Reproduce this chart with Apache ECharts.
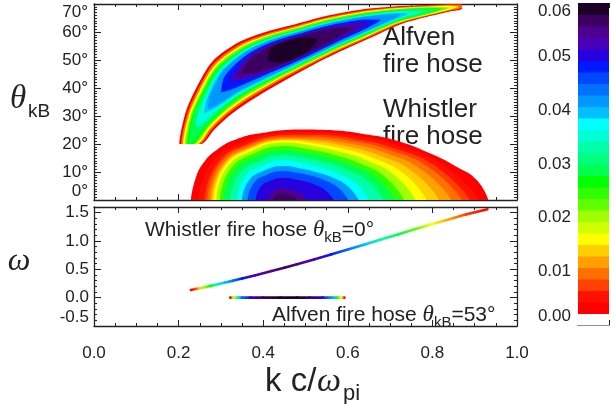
<!DOCTYPE html>
<html><head><meta charset="utf-8">
<script src="https://cdn.jsdelivr.net/npm/echarts@6/dist/echarts.min.js"></script>
<style>html,body{margin:0;padding:0;background:#fff}#c{width:611px;height:404px}</style>
</head><body><div id="c"></div>
<script>
// ---------------- data ----------------
const kTicks = [0.0, 0.2, 0.4, 0.6, 0.8, 1.0];
const thetaTicks = [0, 10, 20, 30, 40, 50, 60, 70];
const omegaTicks = [-0.5, 0.0, 0.5, 1.0, 1.5];
const omegaMax = 1.6;
const gammaTicks = [0.00, 0.01, 0.02, 0.03, 0.04, 0.05, 0.06];

// colour table of the colour bar, lowest band first (0 .. 0.06 in 28 bands)
const bandColors = ['#ffffff','#ff0000','#ff1000','#ff4000','#ff7000','#ffa000','#ffd000','#ffff00',
  '#d0ff00','#a0ff00','#60ff00','#30ff00','#00ff00','#00ff50','#00ff80','#00ffa8','#00ffd8','#00ffff',
  '#00c0ff','#0098ff','#0070ff','#0048ff','#0018ff','#2800e0','#4800b8','#500090','#3c0060','#1c0028'];

// ---- Whistler fire hose: contour levels of gamma and contours [k c/wpi, theta_kB] ----
const whistlerLevels = [0.0021429,0.0042857,0.0064286,0.0085714,0.0107143,0.0128571,0.015,0.0192857,0.0235714,
  0.0278571,0.0321429,0.0364286,0.0407143,0.045,0.0492857,0.0535714,0.0557143];
const whistlerB1 = [[.229,0],[.239,7.1],[.258,13.1],[.29,17.9],[.337,21.7],[.40,24.0],[.479,25.2],[.558,25.0],[.637,23.6],[.716,21.2],[.794,16.7],[.857,11.9],[.905,7.1],[.932,0]];
const whistlerB2 = [[.2465,0],[.2828,14.14],[.3632,21.37],[.4449,23.97],[.5373,24.17],[.6243,22.75],[.7201,19.41],[.8277,12.30],[.9102,0]];
const whistlerB3 = [[.2616,0],[.2927,13.28],[.3669,20.40],[.4449,23.23],[.5339,23.30],[.6170,21.83],[.7084,18.58],[.8105,11.74],[.8883,0]];
const whistlerB4 = [[.2681,0],[.2975,12.86],[.3692,19.80],[.4449,22.61],[.5310,22.55],[.6109,21.05],[.6983,17.87],[.7953,11.26],[.8688,0]];
const whistlerB5 = [[.2746,0],[.3025,12.42],[.3715,19.21],[.4449,21.99],[.5279,21.72],[.6038,20.15],[.6860,17.00],[.7765,10.65],[.8444,0]];
const whistlerB6 = [[.2789,0],[.3056,12.15],[.3729,18.83],[.4449,21.62],[.5250,20.97],[.5963,19.20],[.6722,16.03],[.7549,9.96],[.8152,0]];
const whistlerB7 = [[.2832,0],[.3087,11.88],[.3744,18.45],[.4449,21.25],[.5221,20.22],[.5889,18.26],[.6587,15.08],[.7333,9.26],[.7859,0]];
const whistlerB9 = [[.2897,0],[.3139,11.42],[.3769,17.78],[.4449,20.51],[.5184,19.24],[.5807,17.22],[.6449,14.11],[.7125,8.60],[.7591,0]];
const whistlerB11 = [[.2983,0],[.3216,10.76],[.3809,16.75],[.4449,19.27],[.5135,17.96],[.5710,15.99],[.6294,13.01],[.6909,7.90],[.7323,0]];
const whistlerB13 = [[.3069,0],[.3295,10.07],[.3855,15.54],[.4449,17.79],[.5083,16.58],[.5613,14.76],[.6154,12.02],[.6721,7.30],[.7104,0]];
const whistlerB15 = [[.3220,0],[.3416,9.01],[.3915,13.97],[.4449,16.06],[.5020,14.95],[.5497,13.29],[.5984,10.83],[.6493,6.57],[.6836,0]];
const whistlerB17 = [[.3393,0],[.3549,7.85],[.3978,12.33],[.4449,14.33],[.4953,13.20],[.5367,11.64],[.5784,9.41],[.6213,5.67],[.6495,0]];
const whistlerB19 = [[.3500,0],[.3658,6.90],[.4044,10.60],[.4449,12.11],[.4880,11.27],[.5240,10.03],[.5608,8.18],[.5993,4.96],[.6252,0]];
const whistlerB21 = [[.3630,0],[.3769,5.93],[.4100,9.12],[.4449,10.38],[.4819,9.69],[.5130,8.63],[.5448,7.04],[.5781,4.28],[.6008,0]];
const whistlerB23 = [[.3824,0],[.3930,4.53],[.4183,6.95],[.4449,7.91],[.4733,7.44],[.4975,6.67],[.5224,5.46],[.5485,3.33],[.5667,0]];
const whistlerB25 = [[.4126,0],[.4177,2.37],[.4309,3.65],[.4449,4.20],[.4595,3.83],[.4716,3.38],[.4834,2.71],[.4953,1.62],[.5034,0]];
const whistlerB26 = [[.4233,0],[.4276,1.51],[.4363,2.24],[.4449,2.47],[.4535,2.25],[.4606,1.99],[.4673,1.58],[.4745,0.95],[.4790,0]];

// ---- Alfven fire hose: contour levels of gamma and contours ----
const alfvenLevels = [0.0021429,0.0085714,0.015,0.0214286,0.0257143,0.0278571,0.0342857,0.0385714,0.0407143,
  0.0471429,0.0514286,0.0535714,0.0557143,0.0578571];
const alfvenB1 = [[.2017,20],[.2158,30.9],[.2411,39.8],[.2799,49.5],[.3411,56.25],[.4019,59.86],[.4735,62.68],[.5437,65.54],[.6265,67.86],[.7080,69.07],[.7872,69.64],[.8392,70],[.87,70],
  [.87,68.21],[.8416,67.36],[.7943,65.71],[.7234,62.71],[.6525,57.86],[.5816,53.0],[.5177,48.21],[.4634,43.75],[.4113,39.29],[.3617,34.64],[.3191,30.0],[.2837,25.0],[.2546,20]];
const alfvenB4 = [[.2061,20],[.2201,30.52],[.2453,39.3],[.2836,48.83],[.3440,55.55],[.4049,59.24],[.4752,62.14],[.5453,65.04],[.6277,67.40],[.7089,68.73],[.7877,69.37],[.8395,69.70],[.87,69.62],
  [.87,68.59],[.8413,67.65],[.7938,65.99],[.7226,63.06],[.6513,58.31],[.5800,53.5],[.5161,48.76],[.4603,44.37],[.4085,39.98],[.3580,35.32],[.3150,30.52],[.2794,25.37],[.2502,20]];
const alfvenB7 = [[.2102,20],[.2237,30.21],[.2487,38.87],[.2867,48.27],[.3463,55.0],[.4068,58.74],[.4765,61.70],[.5465,64.62],[.6286,67.03],[.7096,68.44],[.7882,69.14],[.8398,69.40],[.8627,69.0],
  [.8411,67.95],[.7934,66.22],[.7219,63.35],[.6503,58.69],[.5788,53.91],[.5147,49.2],[.4585,44.87],[.4061,40.54],[.3549,35.88],[.3116,30.95],[.2758,25.69],[.2461,20]];
const alfvenB10 = [[.2154,20],[.2280,29.84],[.2526,38.38],[.2896,47.75],[.3481,54.57],[.4079,58.43],[.4774,61.4],[.5474,64.32],[.6295,66.7],[.7104,68.11],[.7887,68.85],[.8404,68.68],
  [.7929,66.51],[.7211,63.68],[.6495,59.01],[.5779,54.21],[.5138,49.49],[.4573,45.18],[.4044,40.96],[.3521,36.40],[.3077,31.44],[.2715,26.05],[.2409,20]];
const alfvenB12 = [[.2208,20],[.2314,29.54],[.2555,38.01],[.2925,47.21],[.3507,53.94],[.4099,57.89],[.4789,60.91],[.5488,63.87],[.6305,66.32],[.7110,67.86],[.7892,68.53],[.8224,68.31],
  [.7923,66.83],[.7205,63.92],[.6485,59.40],[.5765,54.67],[.5123,49.98],[.4553,45.71],[.4018,41.6],[.3491,36.93],[.3048,31.81],[.2682,26.35],[.2355,20]];
const alfvenB13 = [[.2249,20],[.2333,29.38],[.2570,37.82],[.2939,46.97],[.3517,53.71],[.4109,57.64],[.4795,60.73],[.5493,63.7],[.6309,66.15],[.7113,67.73],[.7894,68.47],[.8132,68.13],
  [.7922,66.89],[.7202,64.06],[.6480,59.56],[.5760,54.84],[.5118,50.17],[.4544,45.97],[.4008,41.83],[.3478,37.18],[.3032,32.0],[.2662,26.52]];
const alfvenB16 = [[.2443,25.96],[.2415,28.66],[.2627,37.11],[.2972,46.36],[.3532,53.33],[.4117,57.41],[.4802,60.48],[.5501,63.42],[.6318,65.8],[.7125,67.24],[.7814,67.46],
  [.7190,64.55],[.6471,59.91],[.5752,55.12],[.5110,50.41],[.4535,46.2],[.3992,42.21],[.3444,37.79],[.2976,32.71],[.2580,27.23]];
const alfvenB18 = [[.2599,30.98],[.2678,36.46],[.3004,45.79],[.3552,52.84],[.4132,57.02],[.4813,60.13],[.5512,63.07],[.6328,65.43],[.7136,66.78],[.7439,66.56],
  [.7178,65.01],[.6462,60.28],[.5741,55.46],[.5100,50.76],[.4521,46.59],[.3972,42.7],[.3413,38.36],[.2925,33.36]];
const alfvenB19 = [[.2700,32.59],[.2714,36.01],[.3022,45.46],[.3563,52.58],[.4139,56.81],[.4819,59.95],[.5517,62.89],[.6333,65.23],[.7145,66.4],[.7251,66.12],
  [.7169,65.39],[.6457,60.49],[.5736,55.65],[.5094,50.95],[.4513,46.79],[.3962,42.96],[.3395,38.69],[.2889,33.81]];
const alfvenB22 = [[.3005,38.49],[.3090,44.22],[.3600,51.7],[.4164,56.14],[.4837,59.34],[.5536,62.26],[.6353,64.45],[.6776,64.38],
  [.6436,61.26],[.5717,56.27],[.5075,51.55],[.4488,47.46],[.3925,43.84],[.3326,39.93]];
const alfvenB24 = [[.3208,42.07],[.3630,50.98],[.4184,55.63],[.4851,58.88],[.5551,61.76],[.6376,63.57],[.6471,63.16],
  [.6414,62.14],[.5702,56.78],[.5061,52.01],[.4469,47.98],[.3895,44.56]];
const alfvenB25 = [[.3347,43.5],[.3648,50.54],[.4194,55.35],[.4859,58.63],[.5560,61.46],[.6299,62.41],
  [.5693,57.08],[.5053,52.26],[.4458,48.26],[.3877,44.99]];
const alfvenB26 = [[.3485,44.92],[.3669,50.03],[.4205,55.04],[.4867,58.35],[.5570,61.12],[.6107,61.51],
  [.5683,57.41],[.5045,52.54],[.4447,48.56],[.3856,45.5]];
const alfvenB27 = [[.4101,50.19],[.4218,54.7],[.4877,58.04],[.5292,57.36],[.5036,52.85],[.4434,48.91]];

// ---- dispersion: whistler branch at theta=0, Alfven branch at theta=53 deg ----
const whistlerK = [.229,.24,.25,.26,.275,.29,.31,.33,.35,.38,.42,.45,.48,.52,.56,.60,.64,.68,.72,.76,.80,.84,.88,.93];
const whistlerOmega = [.136,.152,.167,.183,.207,.232,.266,.301,.337,.393,.47,.53,.59,.675,.76,.85,.94,1.03,1.12,1.21,1.30,1.385,1.47,1.56];
const whistlerGamma = [.0032,.0075,.0139,.0204,.0268,.0332,.0396,.0439,.0482,.0525,.0557,.0568,.0557,.0525,.0482,.0439,.0386,.0332,.0279,.0225,.0171,.0118,.0075,.0032];
const alfvenK = [.322,.33,.34,.35,.37,.40,.44,.48,.51,.54,.56,.575,.585,.592];
const alfvenOmega = [0,0,0,0,0,0,0,0,0,0,0,0,0,0];
const alfvenGamma = [.0032,.0182,.0332,.0439,.0504,.0568,.0595,.0595,.0568,.0504,.0418,.0289,.0161,.0032];

// ---------------- chart ----------------
const gammaMax = gammaTicks[gammaTicks.length - 1];
const step = gammaMax / bandColors.length;
const bandOf = v => Math.max(0, Math.min(bandColors.length - 1, Math.floor(v / step + 1e-3)));
const colorOf = v => bandColors[bandOf(v)];

const contourList = [];
[whistlerB1,whistlerB2,whistlerB3,whistlerB4,whistlerB5,whistlerB6,whistlerB7,whistlerB9,whistlerB11,whistlerB13,
 whistlerB15,whistlerB17,whistlerB19,whistlerB21,whistlerB23,whistlerB25,whistlerB26]
  .forEach((p, i) => contourList.push({level: whistlerLevels[i], pts: p, smooth: 0.5}));
[alfvenB1,alfvenB4,alfvenB7,alfvenB10,alfvenB12,alfvenB13,alfvenB16,alfvenB18,alfvenB19,alfvenB22,alfvenB24,alfvenB25,alfvenB26,alfvenB27]
  .forEach((p, i) => contourList.push({level: alfvenLevels[i], pts: p, smooth: 0.3}));

const TXT = '#222';
const FONT = 'Liberation Sans';
const LINE = {show: true, onZero: false, lineStyle: {color: '#222', width: 1.3}};

function xAx(grid, pos, labels) {
  return {gridIndex: grid, type: 'value', position: pos, min: kTicks[0], max: kTicks[kTicks.length - 1],
    interval: kTicks[1] - kTicks[0], axisLine: LINE,
    axisTick: {show: true, inside: true, length: 6, lineStyle: {color: '#222'}},
    minorTick: {show: true, splitNumber: 4, length: 3, lineStyle: {color: '#222'}},
    splitLine: {show: false},
    axisLabel: labels ? {show: true, margin: 19, fontSize: 17, color: TXT, fontFamily: FONT,
      formatter: v => v.toFixed(1)} : {show: false}};
}
function thetaAx(pos, labels) {
  return {gridIndex: 0, type: 'value', position: pos, min: thetaTicks[0], max: thetaTicks[thetaTicks.length - 1],
    interval: thetaTicks[1] - thetaTicks[0], axisLine: LINE,
    axisTick: {show: true, inside: true, length: 7, lineStyle: {color: '#222'}},
    minorTick: {show: true, splitNumber: 10, length: 3, lineStyle: {color: '#222'}},
    splitLine: {show: false},
    axisLabel: labels ? {show: true, margin: 6, fontSize: 17, color: TXT, fontFamily: FONT,
      verticalAlignMinLabel: 'bottom', verticalAlignMaxLabel: 'top',
      formatter: v => v + '°'} : {show: false}};
}
function omegaAx(pos, labels) {
  return {gridIndex: 1, type: 'value', position: pos, min: omegaTicks[0], max: omegaMax,
    interval: omegaTicks[1] - omegaTicks[0], axisLine: LINE,
    axisTick: {show: true, inside: true, length: 7, lineStyle: {color: '#222'}},
    minorTick: {show: true, splitNumber: 5, length: 3, lineStyle: {color: '#222'}},
    splitLine: {show: false},
    axisLabel: labels ? {show: true, margin: 5, fontSize: 17, color: TXT, fontFamily: FONT,
      verticalAlignMinLabel: 'bottom',
      formatter: v => omegaTicks.some(t => Math.abs(t - v) < 1e-9) ? v.toFixed(1) : ''} : {show: false}};
}
function cbX(pos) {
  return {gridIndex: 2, type: 'value', position: pos, min: 0, max: 1, interval: 0.25,
    axisLine: {show: pos === 'bottom', onZero: false, lineStyle: {color: '#222', width: 1.2}},
    axisTick: {show: true, inside: true, length: 5, lineStyle: {color: '#222'}},
    minorTick: {show: true, splitNumber: 2, length: 3, lineStyle: {color: '#222'}},
    splitLine: {show: false}, axisLabel: {show: false}};
}

function lineSeries(name, K, W, G) {
  return {type: 'custom', name, xAxisIndex: 2, yAxisIndex: 2, clip: true, silent: true,
    data: K.slice(0, -1).map((k, i) => [k, W[i], G[i]]),
    renderItem(params, api) {
      const i = params.dataIndex;
      const p0 = api.coord([K[i], W[i]]), p1 = api.coord([K[i + 1], W[i + 1]]);
      return {type: 'line', shape: {x1: p0[0], y1: p0[1], x2: p1[0], y2: p1[1]},
        style: {lineWidth: 2.6, lineCap: 'round',
          stroke: new echarts.graphic.LinearGradient(p0[0], p0[1], p1[0] + 0.01, p1[1],
            [{offset: 0, color: colorOf(G[i])}, {offset: 1, color: colorOf(G[i + 1])}], true)}};
    }};
}

const richSub = {
  t: {fontSize: 23, lineHeight: 30, fontFamily: 'Liberation Serif', fontStyle: 'italic', fill: TXT},
  s: {fontSize: 15, lineHeight: 15, verticalAlign: 'bottom', fontFamily: FONT, fill: TXT}
};

const option = {
  animation: false,
  backgroundColor: '#ffffff',
  textStyle: {fontFamily: FONT},
  grid: [
    {left: 94, top: 4, width: 423, height: 196},
    {left: 94, top: 207, width: 423, height: 119},
    {left: 578, top: 3, width: 31, height: 322}
  ],
  xAxis: [xAx(0, 'bottom', false), xAx(0, 'top', false), xAx(1, 'bottom', true), xAx(1, 'top', false), cbX('bottom'), cbX('top')],
  yAxis: [thetaAx('left', true), thetaAx('right', false), omegaAx('left', true), omegaAx('right', false),
    {gridIndex: 2, type: 'value', position: 'left', min: gammaTicks[0], max: gammaMax, interval: gammaTicks[1] - gammaTicks[0],
      axisLine: {show: false}, axisTick: {show: false}, splitLine: {show: false},
      axisLabel: {show: true, margin: 7, fontSize: 17, color: TXT, fontFamily: FONT,
        verticalAlignMinLabel: 'bottom', verticalAlignMaxLabel: 'top', formatter: v => v.toFixed(2)}}],
  series: [
    {type: 'custom', name: 'growth rate', xAxisIndex: 0, yAxisIndex: 0, clip: true, silent: true,
      data: contourList.map(c => [c.pts[0][0], c.pts[0][1], c.level]),
      renderItem(params, api) {
        const c = contourList[params.dataIndex];
        const pts = c.pts.map(p => api.coord(p));
        return {type: 'polygon', z2: params.dataIndex,
          shape: {points: pts, smooth: c.smooth, smoothConstraint: [pts[0].slice(), pts[0].slice()]},
          style: {fill: colorOf(c.level), stroke: null}};
      }},
    lineSeries('Whistler fire hose', whistlerK, whistlerOmega, whistlerGamma),
    lineSeries('Alfven fire hose', alfvenK, alfvenOmega, alfvenGamma),
    {type: 'custom', name: 'colour bar', xAxisIndex: 4, yAxisIndex: 4, clip: false, silent: true, z: 1,
      data: bandColors.map((c, i) => [0.5, (i + 0.5) * step]),
      renderItem(params, api) {
        const i = params.dataIndex;
        const a = api.coord([0, i * step]), b = api.coord([1, (i + 1) * step]);
        return {type: 'rect', shape: {x: a[0], y: b[1], width: b[0] - a[0], height: a[1] - b[1] + 0.5},
          style: {fill: bandColors[i], stroke: null}};
      }}
  ],
  graphic: [
    {type: 'text', x: 18, y: 99, style: {text: 'θ', fontSize: 33, fontFamily: 'Liberation Serif', fontStyle: 'italic', fill: TXT, align: 'center', verticalAlign: 'middle'}},
    {type: 'text', x: 28, y: 112, style: {text: 'kB', fontSize: 19, fontFamily: FONT, fill: TXT, align: 'left', verticalAlign: 'middle'}},
    {type: 'text', x: 19, y: 262, style: {text: 'ω', fontSize: 32, fontFamily: 'Liberation Serif', fontStyle: 'italic', fill: TXT, align: 'center', verticalAlign: 'middle'}},
    {type: 'text', x: 265, y: 382, style: {text: 'k c/', fontSize: 33, fontFamily: FONT, fill: TXT, align: 'left', verticalAlign: 'middle'}},
    {type: 'text', x: 317, y: 382, style: {text: 'ω', fontSize: 34, fontFamily: 'Liberation Serif', fontStyle: 'italic', fill: TXT, align: 'left', verticalAlign: 'middle'}},
    {type: 'text', x: 343, y: 394, style: {text: 'pi', fontSize: 22, fontFamily: FONT, fill: TXT, align: 'left', verticalAlign: 'middle'}},
    {type: 'text', x: 383, y: 24, style: {text: 'Alfven\nfire hose', fontSize: 26, lineHeight: 27.5, fontFamily: FONT, fill: TXT, align: 'left', verticalAlign: 'top'}},
    {type: 'text', x: 383, y: 96, style: {text: 'Whistler\nfire hose', fontSize: 26, lineHeight: 27.5, fontFamily: FONT, fill: TXT, align: 'left', verticalAlign: 'top'}},
    {type: 'text', x: 145, y: 230, style: {text: 'Whistler fire hose {t|θ}{s|kB}=0°', fontSize: 21, lineHeight: 30, fontFamily: FONT, fill: TXT, align: 'left', verticalAlign: 'middle', rich: richSub}},
    {type: 'text', x: 272, y: 315, style: {text: 'Alfven fire hose {t|θ}{s|kB}=53°', fontSize: 21, lineHeight: 30, fontFamily: FONT, fill: TXT, align: 'left', verticalAlign: 'middle', rich: richSub}}
  ]
};

const chart = echarts.init(document.getElementById('c'), null, {renderer: 'canvas', width: 611, height: 404});
chart.setOption(option);
</script></body></html>
